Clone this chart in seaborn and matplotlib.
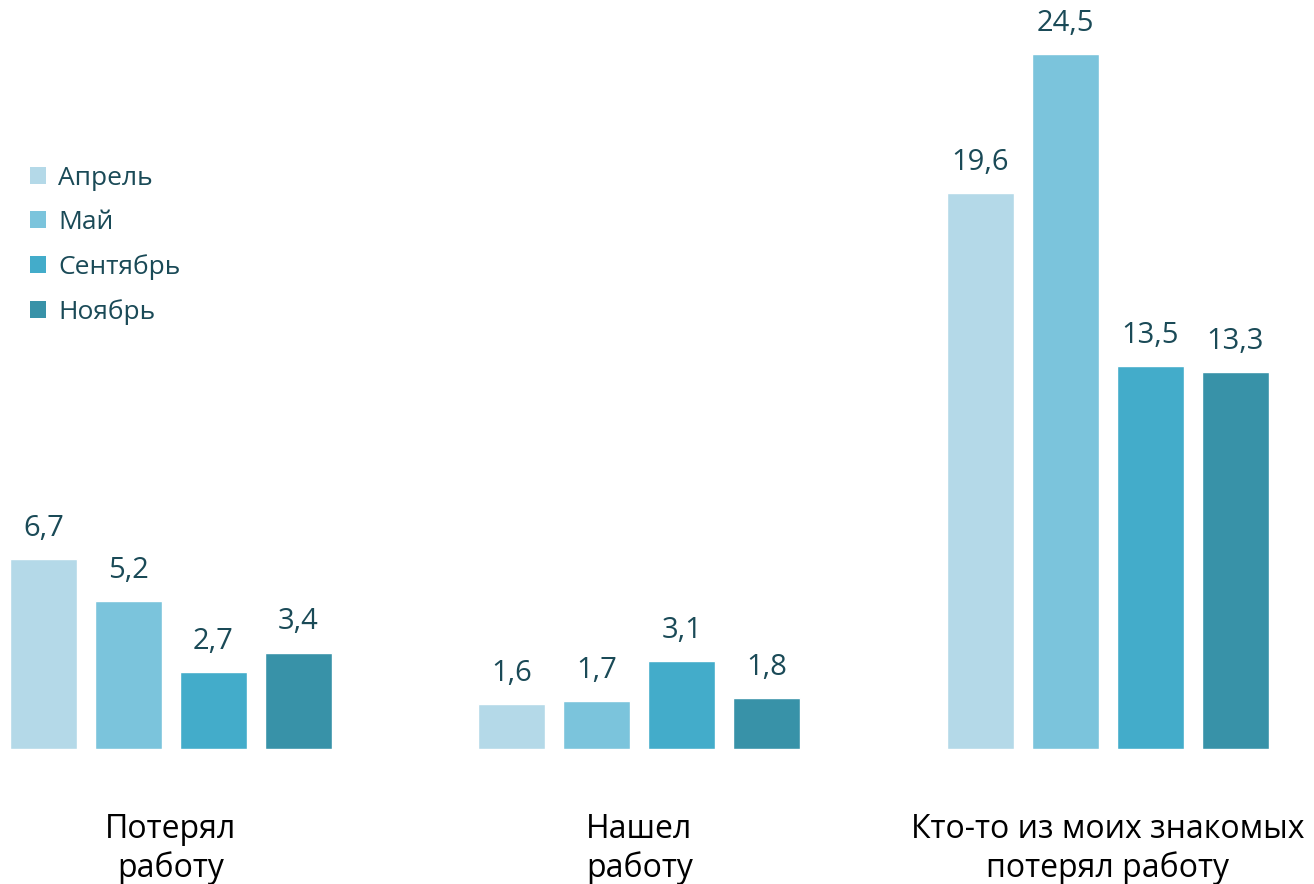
import pandas as pd
import matplotlib
matplotlib.use("Agg")
import matplotlib.pyplot as plt
import seaborn as sns
from matplotlib.patches import Patch

# --- Data ---
categories = ["Потерял\nработу", "Нашел\nработу", "Кто-то из моих знакомых\nпотерял работу"]
months = ["Апрель", "Май", "Сентябрь", "Ноябрь"]
april = [6.7, 1.6, 19.6]
may = [5.2, 1.7, 24.5]
september = [2.7, 3.1, 13.5]
november = [3.4, 1.8, 13.3]

colors = ["#B4D9E8", "#7BC4DC", "#43ACCA", "#3892A8"]
label_color = "#1A4A57"

rows = []
for month, vals in zip(months, [april, may, september, november]):
    for cat, v in zip(categories, vals):
        rows.append({"category": cat, "month": month, "value": v})
df = pd.DataFrame(rows)

sns.set_style("white")
plt.rcParams["font.family"] = ["Open Sans", "DejaVu Sans"]

fig = plt.figure(figsize=(13.14, 8.84), dpi=100)
ax = fig.add_axes([0, 0.1527, 1, 0.8473])

sns.barplot(data=df, x="category", y="value", hue="month", hue_order=months,
            palette=colors, width=0.726, gap=0.212, saturation=1,
            legend=False, ax=ax)

# value labels
for container in ax.containers:
    for bar in container:
        h = bar.get_height()
        ax.annotate(f"{h:.1f}".replace(".", ","),
                    (bar.get_x() + bar.get_width() / 2, h),
                    xytext=(0, 22), textcoords="offset points",
                    ha="center", va="center", fontsize=21, color=label_color)

ax.set_xlim(-0.365, 2.44)
ax.set_ylim(0, 26.4)
ax.set_xlabel("")
ax.set_ylabel("")
ax.set_yticks([])
ax.tick_params(axis="x", length=0, labelsize=23, pad=46, labelcolor="black")
for lbl in ax.get_xticklabels():
    lbl.set_linespacing(1.2)
sns.despine(ax=ax, left=True, bottom=True, top=True, right=True)

handles = [Patch(facecolor=c, edgecolor="none") for c in colors]
leg = fig.legend(handles, months, loc="upper left", bbox_to_anchor=(0.005, 0.839),
                 frameon=False, fontsize=19, handlelength=0.6, handleheight=0.6,
                 handletextpad=0.45, labelspacing=0.72, labelcolor=label_color)

fig.savefig("out.png", dpi=100)
